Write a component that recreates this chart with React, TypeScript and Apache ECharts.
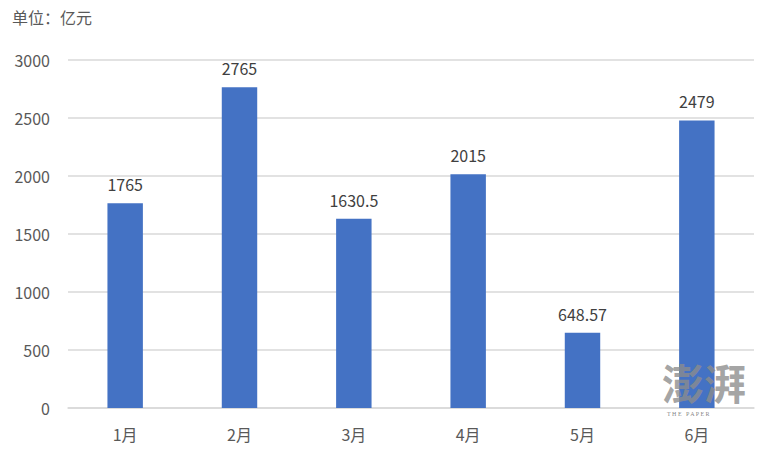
import React, { useEffect, useRef } from "react";
import * as echarts from "echarts";

const categories = ["1月", "2月", "3月", "4月", "5月", "6月"];
const values = [1765, 2765, 1630.5, 2015, 648.57, 2479];
const yTicks = [0, 500, 1000, 1500, 2000, 2500, 3000];

const FONT = "'Microsoft YaHei', 'Noto Sans CJK SC', 'Noto Sans', sans-serif";

export default function App() {
  const ref = useRef<HTMLDivElement>(null);
  useEffect(() => {
    document.body.style.margin = "0";
    const chart = echarts.init(ref.current!, null, { renderer: "svg" });
    chart.setOption({
      animation: false,
      textStyle: { fontFamily: FONT },
      grid: { left: 68, right: 20, top: 60, bottom: 48 },
      graphic: [
        {
          type: "text",
          left: 12,
          top: 9,
          style: { text: "单位：亿元", fontSize: 16, fill: "#595959", fontFamily: FONT },
        },
        {
          type: "text",
          x: 662,
          y: 360,
          z: 10,
          style: {
            text: "澎湃",
            fontSize: 42,
            lineHeight: 42,
            fontWeight: "bold",
            fill: "rgba(140,140,140,0.8)",
            fontFamily: FONT,
          },
        },
        {
          type: "text",
          x: 667,
          y: 411,
          z: 10,
          style: {
            text: "T H E   P A P E R",
            fontSize: 6,
            lineHeight: 6,
            fill: "rgba(110,110,110,0.85)",
            fontFamily: "serif",
          },
        },
      ],
      xAxis: {
        type: "category",
        data: categories,
        axisTick: { show: false },
        axisLine: { lineStyle: { color: "#d9d9d9", width: 1.5 } },
        axisLabel: { color: "#595959", fontSize: 16, margin: 18, fontFamily: FONT },
      },
      yAxis: {
        type: "value",
        min: yTicks[0],
        max: yTicks[yTicks.length - 1],
        interval: 500,
        axisLine: { show: false },
        axisTick: { show: false },
        splitLine: { lineStyle: { color: "#d9d9d9", width: 1.5 } },
        axisLabel: {
          color: "#595959",
          fontSize: 16,
          margin: 18,
          fontFamily: FONT,
          formatter: (v: number) => String(v),
        },
      },
      series: [
        {
          type: "bar",
          data: values,
          barWidth: "31%",
          itemStyle: { color: "#4472C4" },
          label: {
            show: true,
            position: "top",
            distance: 11,
            color: "#404040",
            fontSize: 16,
            fontFamily: FONT,
          },
        },
      ],
    });
    return () => chart.dispose();
  }, []);
  return <div ref={ref} style={{ width: 774, height: 456 }} />;
}
